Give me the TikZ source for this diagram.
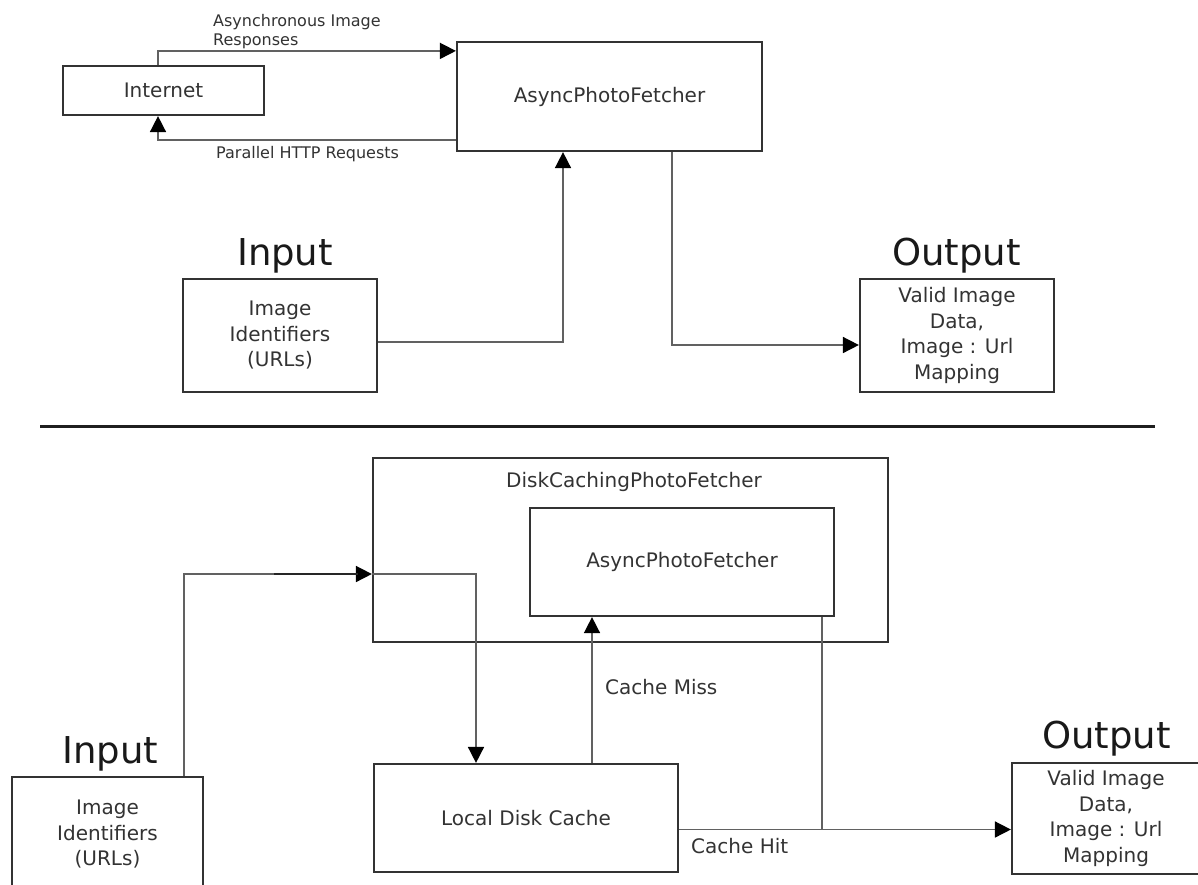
\documentclass[tikz,border=0pt]{standalone}
\usepackage{fontspec}
\setmainfont{DejaVu Sans}
\usetikzlibrary{arrows.meta}
\begin{document}
\begin{tikzpicture}[x=1pt,y=-1pt,
  box/.style={draw=black!80, line width=2.2pt, fill=white, inner sep=0pt, align=center,
              font=\fontsize{20}{25.5}\selectfont, text=black!80},
  conn/.style={draw=black!62, line width=1.6pt},
  arr/.style={conn, -{Triangle[length=16pt,width=16pt,black]}},
  lbl/.style={font=\fontsize{16}{19}\selectfont, text=black!80, inner sep=0pt, align=left},
  mid/.style={font=\fontsize{20}{24}\selectfont, text=black!80, inner sep=0pt},
  big/.style={font=\fontsize{37}{40}\selectfont, text=black!90, inner sep=0pt},
  sep/.style={draw=black!88, line width=3pt}
]
\clip (0,0) rectangle (1198,884);
\fill[white] (0,0) rectangle (1198,884);

% ---------- top half ----------
\node[box, minimum width=201pt, minimum height=49pt] (internet) at (163.5,90.5) {Internet};
\node[box, minimum width=305pt, minimum height=109pt] (apf) at (609.5,96.5) {AsyncPhotoFetcher};
\node[box, minimum width=194pt, minimum height=113pt] (in1) at (280,335.5) {Image\\Identifiers\\(URLs)};
\node[box, minimum width=194pt, minimum height=113pt] (out1) at (957,335.5) {Valid Image\\Data,\\Image : Url\\Mapping};

\node[big, anchor=base] (in1t) at (285,265) {Input};
\node[big, anchor=base] (out1t) at (956.5,265) {Output};
\node[lbl, anchor=north west] (resp) at (213,14) {Asynchronous Image\\Responses};
\node[lbl, anchor=base west] (req) at (216,158) {Parallel HTTP Requests};

\draw[arr] ([xshift=-5.5pt]internet.north) |- ([yshift=-10pt]apf.north west);
\draw[arr] ([yshift=12pt]apf.south west) -| ([xshift=-5.5pt]internet.south);
\draw[arr] ([yshift=-6.5pt]in1.east) -| ([xshift=-46.5pt]apf.south);
\draw[arr] ([xshift=62.5pt]apf.south) |- ([yshift=-9.5pt]out1.west);

% ---------- separator ----------
\draw[sep] (40,426) -- (1155,426);

% ---------- bottom half ----------
\node[box, minimum width=515pt, minimum height=184pt] (dcpf) at (630.5,550) {};
\node[mid, anchor=base] (dcpfl) at (634,487) {DiskCachingPhotoFetcher};
\node[box, minimum width=304pt, minimum height=108pt] (apf2) at (682,562) {AsyncPhotoFetcher};
\node[box, minimum width=304pt, minimum height=108pt] (ldc) at (526,818) {Local Disk Cache};
\node[box, minimum width=191pt, minimum height=115pt] (in2) at (107.5,834.5) {Image\\Identifiers\\(URLs)};
\node[box, minimum width=188pt, minimum height=111pt] (out2) at (1106,818.5) {Valid Image\\Data,\\Image : Url\\Mapping};

\node[big, anchor=base] (in2t) at (110.5,763) {Input};
\node[big, anchor=base] (out2t) at (1106.5,748) {Output};
\node[mid, anchor=base west] (missl) at (605,694) {Cache Miss};
\node[mid, anchor=base west] (hitl) at (691,853) {Cache Hit};

\coordinate (entry) at ([yshift=-24pt]dcpf.west);
\coordinate (miss) at ([xshift=66pt]ldc.north);
\coordinate (hit) at ([yshift=-11.5pt]ldc.east);
\coordinate (drop) at ([xshift=140pt]apf2.south);

\draw[arr] ([xshift=76.5pt]in2.north) |- (entry);
\draw[draw=black!85, line width=1.8pt] ([xshift=-98pt]entry) -- ([xshift=-14pt]entry);
\draw[arr] (entry) -| ([xshift=-50pt]ldc.north);
\draw[arr] (miss) -- (miss |- apf2.south);
\draw[conn] (drop) -- (drop |- hit);
\draw[arr] (hit) -- (hit -| out2.west);
\end{tikzpicture}
\end{document}
